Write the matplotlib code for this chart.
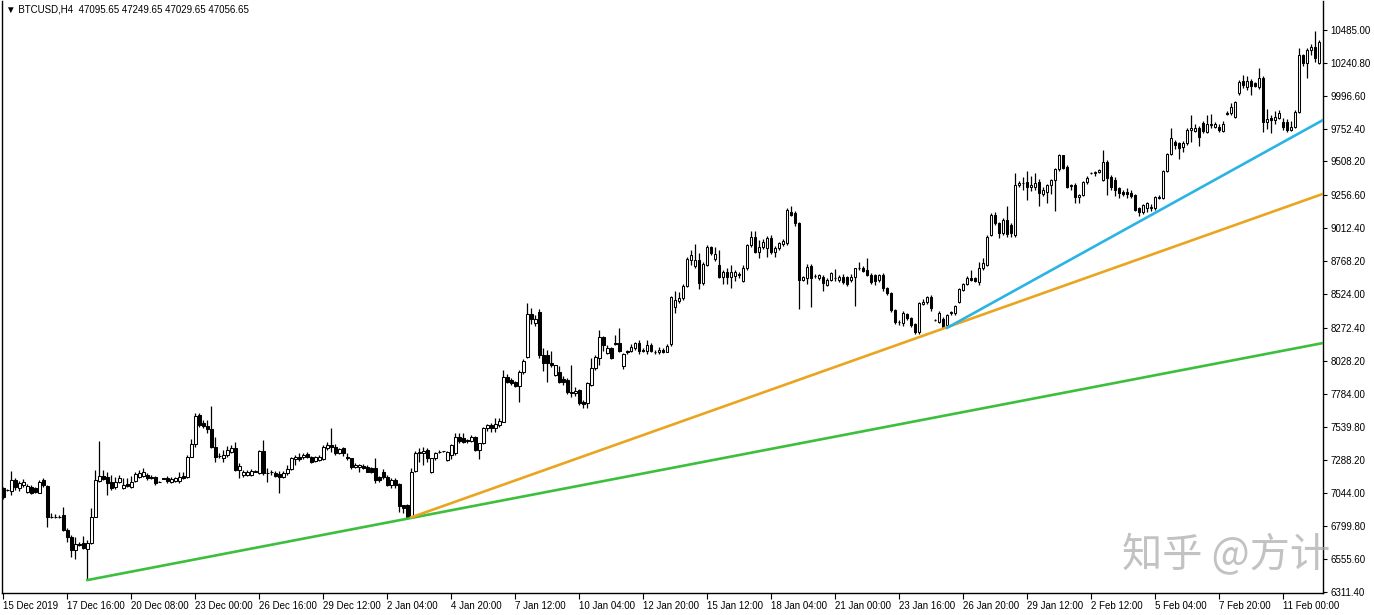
import numpy as np
import matplotlib
matplotlib.use("Agg")
import matplotlib.pyplot as plt

# -----------------------------------------------------
# BTCUSD H4 candles, 15 Dec 2019 - 11 Feb 2020
# -----------------------------------------------------

opens = [
    7081, 7069, 7064, 7143, 7081, 7106, 7056, 7094, 7081, 7049,
    7143, 7098, 6871, 6866, 6871, 6883, 6772, 6722, 6623, 6668,
    6673, 6628, 6678, 6871, 7138, 7173, 7163, 7131, 7089, 7131,
    7081, 7113, 7089, 7138, 7168, 7173, 7180, 7168, 7163, 7131,
    7155, 7160, 7131, 7138, 7138, 7173, 7168, 7316, 7410, 7626,
    7564, 7544, 7519, 7391, 7321, 7304, 7329, 7353, 7378, 7217,
    7180, 7180, 7180, 7205, 7192, 7361, 7197, 7205, 7197, 7188,
    7168, 7192, 7222, 7296, 7316, 7311, 7336, 7311, 7287, 7292,
    7296, 7378, 7403, 7391, 7346, 7379, 7317, 7304, 7242, 7237,
    7250, 7242, 7230, 7230, 7162, 7205, 7168, 7106, 7143, 7110,
    6958, 6958, 6871, 7210, 7341, 7341, 7366, 7205, 7304, 7348,
    7357, 7292, 7329, 7341, 7465, 7457, 7440, 7434, 7465, 7366,
    7416, 7527, 7552, 7527, 7552, 7577, 7911, 7886, 7868, 7844,
    7943, 8059, 8373, 8307, 8393, 8071, 8071, 8010, 7923, 7943,
    7893, 7886, 7799, 7787, 7812, 7725, 7713, 7849, 7972, 8047,
    8208, 8084, 8121, 8158, 8158, 7992, 8101, 8101, 8121, 8158,
    8109, 8101, 8146, 8096, 8091, 8110, 8096, 8150, 8430, 8473,
    8492, 8586, 8777, 8735, 8777, 8604, 8740, 8876, 8784, 8740,
    8653, 8685, 8653, 8660, 8670, 8620, 8715, 8888, 8950, 8839,
    8876, 8863, 8938, 8839, 8863, 8893, 8901, 9136, 9123, 9049,
    8628, 8646, 8735, 8660, 8646, 8653, 8591, 8628, 8641, 8628,
    8653, 8648, 8628, 8653, 8717, 8720, 8703, 8665, 8665, 8628,
    8665, 8566, 8529, 8406, 8319, 8307, 8375, 8344, 8299, 8245,
    8448, 8462, 8505, 8331, 8319, 8338, 8294, 8381, 8381, 8467,
    8554, 8596, 8641, 8641, 8611, 8715, 8740, 8960, 9111, 9049,
    8980, 9074, 9037, 8965, 9334, 9346, 9359, 9318, 9322, 9356,
    9265, 9285, 9334, 9371, 9452, 9557, 9470, 9326, 9334, 9247,
    9260, 9359, 9421, 9421, 9433, 9371, 9507, 9396, 9371, 9309,
    9285, 9285, 9272, 9262, 9161, 9136, 9161, 9161, 9161, 9235,
    9235, 9438, 9562, 9656, 9643, 9619, 9643, 9742, 9735, 9755,
    9792, 9730, 9780, 9767, 9767, 9735, 9866, 9866, 9841, 10015,
    10106, 10064, 10106, 10089, 10064, 10131, 9804, 9829, 9817, 9834,
    9804, 9804, 9742, 9767, 9874, 10299, 10237, 10336, 10361, 10237,
]

highs = [
    7094, 7075, 7210, 7155, 7136, 7148, 7113, 7106, 7089, 7143,
    7155, 7106, 6895, 6890, 6885, 6945, 6784, 6735, 6722, 6680,
    6727, 6698, 6933, 7217, 7433, 7217, 7205, 7180, 7168, 7180,
    7155, 7155, 7173, 7205, 7217, 7230, 7192, 7180, 7173, 7133,
    7160, 7173, 7163, 7168, 7205, 7205, 7329, 7445, 7643, 7643,
    7589, 7589, 7693, 7465, 7341, 7366, 7396, 7403, 7428, 7267,
    7217, 7217, 7222, 7215, 7366, 7440, 7230, 7217, 7212, 7212,
    7212, 7254, 7316, 7329, 7341, 7346, 7353, 7321, 7321, 7329,
    7403, 7428, 7527, 7410, 7379, 7385, 7340, 7310, 7270, 7262,
    7262, 7255, 7240, 7304, 7170, 7225, 7180, 7155, 7160, 7120,
    6960, 6965, 7230, 7355, 7379, 7391, 7379, 7310, 7350, 7366,
    7362, 7360, 7410, 7490, 7495, 7490, 7450, 7480, 7470, 7420,
    7540, 7560, 7565, 7601, 7600, 7960, 7930, 7900, 7880, 7960,
    8040, 8455, 8420, 8370, 8410, 8120, 8110, 8100, 8000, 7990,
    7915, 7900, 8000, 7830, 7820, 7735, 7870, 8050, 8070, 8260,
    8215, 8145, 8130, 8220, 8270, 8085, 8110, 8150, 8170, 8185,
    8125, 8185, 8160, 8110, 8130, 8120, 8150, 8510, 8545, 8540,
    8600, 8800, 8850, 8896, 8830, 8760, 8890, 8880, 8870, 8850,
    8705, 8720, 8740, 8700, 8690, 8740, 8895, 8990, 8990, 8925,
    8930, 8955, 8960, 8880, 8910, 8935, 9165, 9180, 9140, 9060,
    8660, 8745, 8750, 8670, 8675, 8665, 8640, 8690, 8710, 8665,
    8670, 8660, 8670, 8720, 8760, 8735, 8790, 8680, 8675, 8670,
    8680, 8575, 8540, 8415, 8330, 8400, 8385, 8355, 8310, 8465,
    8490, 8510, 8515, 8340, 8395, 8350, 8375, 8400, 8445, 8570,
    8605, 8660, 8700, 8650, 8760, 8790, 8960, 9125, 9130, 9060,
    9085, 9180, 9050, 9420, 9360, 9390, 9440, 9400, 9420, 9380,
    9320, 9340, 9380, 9460, 9565, 9560, 9480, 9340, 9350, 9270,
    9365, 9400, 9430, 9440, 9450, 9594, 9520, 9410, 9390, 9320,
    9300, 9310, 9300, 9270, 9170, 9195, 9205, 9190, 9250, 9260,
    9445, 9570, 9760, 9670, 9650, 9660, 9760, 9850, 9790, 9770,
    9810, 9850, 9860, 9800, 9790, 9810, 9880, 9940, 9960, 10110,
    10150, 10140, 10120, 10100, 10200, 10140, 9900, 9850, 9880, 9890,
    9830, 9820, 9810, 9890, 10350, 10310, 10350, 10380, 10480, 10410,
]

lows = [
    7000, 7060, 7032, 7069, 7064, 7089, 7044, 7039, 7044, 7044,
    7089, 6797, 6859, 6860, 6860, 6767, 6685, 6574, 6554, 6650,
    6628, 6401, 6668, 6866, 7131, 7143, 7032, 7069, 7074, 7118,
    7074, 7089, 7081, 7131, 7155, 7163, 7143, 7148, 7106, 7126,
    7150, 7123, 7123, 7131, 7123, 7148, 7160, 7311, 7391, 7539,
    7527, 7490, 7378, 7279, 7304, 7279, 7311, 7341, 7212, 7155,
    7168, 7173, 7173, 7200, 7188, 7180, 7131, 7180, 7163, 7044,
    7155, 7180, 7217, 7254, 7287, 7296, 7304, 7272, 7279, 7287,
    7292, 7366, 7354, 7329, 7335, 7320, 7295, 7225, 7230, 7200,
    7225, 7200, 7195, 7120, 7130, 7150, 7095, 7082, 7080, 6908,
    6900, 6860, 6860, 7200, 7280, 7255, 7280, 7195, 7295, 7340,
    7352, 7285, 7300, 7330, 7420, 7420, 7420, 7428, 7360, 7300,
    7410, 7510, 7500, 7500, 7540, 7570, 7860, 7850, 7835, 7725,
    7930, 8050, 8300, 8290, 8050, 7950, 7868, 7980, 7915, 7860,
    7845, 7780, 7760, 7770, 7700, 7680, 7675, 7840, 7960, 7997,
    8100, 8075, 8040, 8145, 8090, 7965, 8080, 8090, 8110, 8080,
    8090, 8080, 8090, 8075, 8080, 8085, 8090, 8140, 8380, 8460,
    8480, 8575, 8740, 8720, 8560, 8590, 8730, 8815, 8770, 8640,
    8600, 8600, 8570, 8620, 8640, 8610, 8700, 8870, 8830, 8790,
    8860, 8800, 8820, 8800, 8850, 8880, 8890, 9100, 9030, 8412,
    8620, 8600, 8430, 8640, 8630, 8545, 8580, 8620, 8620, 8615,
    8600, 8580, 8615, 8435, 8700, 8685, 8655, 8600, 8590, 8610,
    8550, 8520, 8390, 8300, 8295, 8290, 8330, 8280, 8230, 8230,
    8440, 8450, 8400, 8320, 8310, 8270, 8285, 8370, 8370, 8460,
    8545, 8590, 8620, 8610, 8590, 8700, 8730, 8955, 9040, 8940,
    8960, 8950, 8950, 8950, 9320, 9300, 9220, 9290, 9300, 9180,
    9250, 9200, 9270, 9140, 9440, 9455, 9310, 9300, 9200, 9200,
    9250, 9340, 9415, 9400, 9420, 9360, 9260, 9300, 9250, 9240,
    9250, 9240, 9235, 9140, 9100, 9120, 9130, 9140, 9150, 9230,
    9230, 9430, 9555, 9600, 9530, 9580, 9630, 9650, 9730, 9620,
    9720, 9720, 9760, 9760, 9730, 9730, 9850, 9850, 9830, 10000,
    10055, 10040, 10000, 10060, 10050, 9730, 9750, 9720, 9790, 9820,
    9740, 9730, 9735, 9760, 9865, 10220, 10130, 10300, 10250, 10230,
]

closes = [
    7014, 7066, 7143, 7089, 7118, 7131, 7098, 7049, 7054, 7131,
    7106, 6871, 6866, 6871, 6868, 6772, 6722, 6623, 6668, 6662,
    6636, 6678, 6871, 7143, 7173, 7153, 7118, 7081, 7131, 7155,
    7106, 7098, 7131, 7188, 7197, 7205, 7155, 7155, 7118, 7128,
    7153, 7136, 7150, 7155, 7168, 7155, 7316, 7410, 7618, 7551,
    7544, 7519, 7391, 7316, 7318, 7329, 7366, 7383, 7217, 7247,
    7205, 7205, 7210, 7208, 7361, 7192, 7195, 7200, 7173, 7163,
    7197, 7222, 7304, 7316, 7296, 7329, 7316, 7279, 7311, 7316,
    7391, 7403, 7391, 7341, 7371, 7341, 7304, 7237, 7255, 7252,
    7230, 7205, 7205, 7143, 7143, 7162, 7106, 7143, 7106, 6953,
    6933, 6871, 7205, 7341, 7354, 7357, 7304, 7304, 7341, 7354,
    7357, 7350, 7403, 7465, 7434, 7428, 7436, 7465, 7366, 7416,
    7527, 7552, 7527, 7557, 7582, 7911, 7873, 7861, 7844, 7948,
    8027, 8373, 8339, 8339, 8071, 8010, 8010, 7997, 7997, 7873,
    7868, 7794, 7787, 7804, 7713, 7705, 7861, 7972, 8059, 8208,
    8146, 8121, 8047, 8152, 8101, 8076, 8096, 8133, 8158, 8101,
    8104, 8146, 8101, 8091, 8110, 8096, 8140, 8505, 8480, 8492,
    8586, 8784, 8814, 8777, 8604, 8745, 8876, 8826, 8819, 8653,
    8690, 8653, 8690, 8690, 8665, 8715, 8888, 8950, 8839, 8876,
    8913, 8938, 8839, 8868, 8901, 8918, 9148, 9111, 9049, 8628,
    8653, 8727, 8641, 8658, 8665, 8604, 8628, 8678, 8645, 8653,
    8616, 8597, 8653, 8715, 8720, 8695, 8665, 8611, 8621, 8665,
    8566, 8529, 8406, 8319, 8315, 8381, 8344, 8294, 8245, 8455,
    8467, 8505, 8418, 8328, 8381, 8282, 8368, 8393, 8436, 8561,
    8596, 8646, 8628, 8621, 8715, 8752, 8950, 9111, 9049, 8975,
    9074, 8970, 8975, 9334, 9350, 9350, 9317, 9330, 9352, 9272,
    9295, 9334, 9371, 9452, 9557, 9463, 9322, 9330, 9247, 9262,
    9359, 9384, 9425, 9433, 9445, 9507, 9384, 9315, 9297, 9272,
    9265, 9265, 9255, 9148, 9131, 9186, 9198, 9173, 9247, 9247,
    9438, 9562, 9681, 9631, 9611, 9643, 9742, 9760, 9760, 9693,
    9735, 9785, 9783, 9785, 9742, 9785, 9862, 9916, 9953, 10101,
    10077, 10106, 10072, 10072, 10131, 9804, 9824, 9817, 9841, 9866,
    9767, 9742, 9767, 9874, 10299, 10237, 10336, 10361, 10275, 10398,
]

# one label every 16 bars
date_labels = [
    "15 Dec 2019", "17 Dec 16:00", "20 Dec 08:00", "23 Dec 00:00",
    "26 Dec 16:00", "29 Dec 12:00", "2 Jan 04:00", "4 Jan 20:00",
    "7 Jan 12:00", "10 Jan 04:00", "12 Jan 20:00", "15 Jan 12:00",
    "18 Jan 04:00", "21 Jan 00:00", "23 Jan 16:00", "26 Jan 20:00",
    "29 Jan 12:00", "2 Feb 12:00", "5 Feb 04:00", "7 Feb 20:00",
    "11 Feb 00:00",
]

price_ticks = [6311.40, 6555.60, 6799.80, 7044.00, 7288.20, 7539.80,
               7784.00, 8028.20, 8272.40, 8524.00, 8768.20, 9012.40,
               9256.60, 9508.20, 9752.40, 9996.60, 10240.80, 10485.00]

# trend lines: (bar index, price) anchors
green_bars, green_prices = [21, 330], [6400, 8160]
orange_bars, orange_prices = [102, 330], [6866, 9268]
blue_bars, blue_prices = [236, 330], [8273, 9816]

header = "\u25bc BTCUSD,H4  47095.65 47249.65 47029.65 47056.65"

# -----------------------------------------------------

plt.rcParams["font.family"] = ["Liberation Sans", "DejaVu Sans"]

o = np.array(opens, dtype=float)
h = np.array(highs, dtype=float)
l = np.array(lows, dtype=float)
c = np.array(closes, dtype=float)
h = np.maximum(h, np.maximum(o, c))
l = np.minimum(l, np.minimum(o, c))
x = np.arange(len(c))
up = c >= o

fig = plt.figure(figsize=(13.74, 6.15), dpi=100)
ax = fig.add_axes([0.0018, 0.0358, 0.9611, 0.9626])

ax.vlines(x, l, h, color="black", lw=0.9, zorder=1)
ax.bar(x[up], c[up] - o[up], bottom=o[up], width=0.62,
       facecolor="white", edgecolor="black", lw=0.75, zorder=2)
ax.bar(x[~up], c[~up] - o[~up], bottom=o[~up], width=0.62,
       facecolor="black", edgecolor="black", lw=0.75, zorder=2)

ax.plot(green_bars, green_prices, color="#3cbf3c", lw=1.9, zorder=3)
ax.plot(orange_bars, orange_prices, color="#eaa520", lw=1.9, zorder=3)
ax.plot(blue_bars, blue_prices, color="#2ab4e4", lw=1.9, zorder=3)

ax.set_xlim(-0.25, 330)
ax.set_ylim(6304, 10700)

ax.set_xticks(np.arange(0, 16 * len(date_labels), 16))
ax.set_xticklabels(date_labels)
for lbl in ax.get_xticklabels():
    lbl.set_horizontalalignment("left")
ax.tick_params(axis="x", direction="out", length=4, width=0.8, pad=1.5,
               labelsize=7)

ax.yaxis.tick_right()
ax.set_yticks(price_ticks)
ax.set_yticklabels(["%.2f" % p for p in price_ticks])
ax.tick_params(axis="y", direction="out", length=3, width=0.8, pad=2.5,
               labelsize=7)

ax.spines["top"].set_visible(False)
for side in ["left", "right", "bottom"]:
    ax.spines[side].set_linewidth(1.0)
    ax.spines[side].set_color("black")

fig.text(6 / 1374, 1 - 10 / 615, header, fontsize=7, va="center",
         ha="left", color="black")

fig.text(0.8166, 0.0976, "知乎 @方计", fontsize=29, color="#a8a8a8",
         alpha=0.7, va="center", ha="left", zorder=10,
         family=["Noto Sans CJK SC", "DejaVu Sans"])

fig.savefig("out.png", dpi=100)
